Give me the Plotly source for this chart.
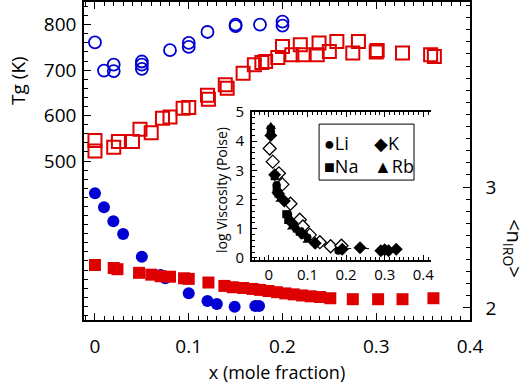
import plotly.graph_objects as go

FONT = "Open Sans"

# ---------------- main panel data ----------------
# Tg (K), left axis
tg_li_x = [0, 0.0096, 0.02, 0.02, 0.05, 0.05, 0.05, 0.08, 0.1, 0.1, 0.12, 0.15, 0.15, 0.176, 0.2, 0.2]
tg_li_y = [761, 699, 712, 698, 719, 712, 703, 744, 760, 751, 784, 797, 800, 800, 807, 798]

tg_na_x = [0, 0, 0.02, 0.025, 0.04, 0.048, 0.06, 0.072, 0.08, 0.094, 0.1, 0.12, 0.121, 0.139,
           0.141, 0.158, 0.17, 0.178, 0.182, 0.195, 0.2, 0.21, 0.219, 0.222, 0.237, 0.239,
           0.25, 0.258, 0.275, 0.281, 0.30, 0.301, 0.328, 0.358, 0.362]
tg_na_y = [522, 545, 530, 543, 543, 570, 562, 594, 597, 616, 618, 645, 636, 668,
           660, 693, 712, 717, 719, 728, 752, 734, 756, 734, 734, 760,
           741, 763, 738, 763, 740, 743, 738, 734, 730]

# <n_IRO>, right axis
n_li_x = [0, 0.0096, 0.0196, 0.03, 0.05, 0.07, 0.075, 0.1, 0.12, 0.13, 0.149, 0.171, 0.175]
n_li_y = [2.948, 2.832, 2.717, 2.611, 2.424, 2.273, 2.245, 2.121, 2.058, 2.033, 2.01, 2.016, 2.016]

n_na_x = [0, 0.02, 0.024, 0.047, 0.06, 0.07, 0.08, 0.095, 0.1, 0.121, 0.138, 0.147, 0.158,
          0.168, 0.176, 0.185, 0.194, 0.203, 0.212, 0.221, 0.23, 0.24, 0.251, 0.275, 0.302,
          0.328, 0.361]
n_na_y = [2.355, 2.33, 2.32, 2.29, 2.275, 2.262, 2.258, 2.245, 2.24, 2.21, 2.182, 2.171, 2.165,
          2.157, 2.149, 2.14, 2.13, 2.12, 2.112, 2.103, 2.096, 2.09, 2.08, 2.072, 2.072,
          2.072, 2.08]

# ---------------- inset data: log viscosity (Poise) ----------------
visc_li_x = [0.005, 0.02, 0.03, 0.05, 0.07, 0.1, 0.18]
visc_li_y = [4.3, 2.5, 2.1, 1.5, 1.0, 0.7, 0.25]
visc_na_x = [0.005, 0.015, 0.02, 0.025, 0.045, 0.05, 0.08, 0.09]
visc_na_y = [4.4, 2.8, 2.4, 2.2, 1.5, 1.3, 0.9, 0.8]
visc_k_x = [0.005, 0.015, 0.025, 0.04, 0.06, 0.085, 0.12, 0.19, 0.236, 0.29, 0.3, 0.31, 0.33]
visc_k_y = [4.2, 2.85, 2.2, 1.95, 1.2, 0.85, 0.5, 0.3, 0.35, 0.25, 0.28, 0.25, 0.3]
visc_rb_x = [0.005, 0.02, 0.03, 0.06, 0.075, 0.1, 0.3]
visc_rb_y = [4.5, 2.3, 2.0, 1.05, 0.95, 0.6, 0.22]
visc_open_x = [0.002, 0.01, 0.026, 0.035, 0.056, 0.08, 0.088, 0.106, 0.132, 0.16, 0.188]
visc_open_y = [3.75, 3.3, 2.9, 2.52, 1.86, 1.31, 1.08, 0.79, 0.54, 0.4, 0.42]
visc_fit_x = [0.19, 0.236, 0.29, 0.33]
visc_fit_y = [0.3, 0.35, 0.27, 0.3]

legend_labels = ["\u25CFLi", "\u25C6K", "\u25A0Na", "\u25B2Rb"]

BLUE = "rgb(0,0,210)"
RED = "rgb(222,0,0)"

fig = go.Figure()

fig.add_trace(go.Scatter(x=tg_li_x, y=tg_li_y, mode="markers", xaxis="x", yaxis="y",
                         marker=dict(symbol="circle-open", size=12, color=BLUE, line=dict(width=1.8))))
fig.add_trace(go.Scatter(x=tg_na_x, y=tg_na_y, mode="markers", xaxis="x", yaxis="y",
                         marker=dict(symbol="square-open", size=13, color=RED, line=dict(width=2))))
fig.add_trace(go.Scatter(x=n_li_x, y=n_li_y, mode="markers", xaxis="x", yaxis="y2",
                         marker=dict(symbol="circle", size=12, color=BLUE)))
fig.add_trace(go.Scatter(x=n_na_x, y=n_na_y, mode="markers", xaxis="x", yaxis="y2",
                         marker=dict(symbol="square", size=12, color=RED)))

# inset traces
fig.add_trace(go.Scatter(x=visc_fit_x, y=visc_fit_y, mode="lines", xaxis="x2", yaxis="y3",
                         line=dict(color="black", width=1, dash="dash")))
fig.add_trace(go.Scatter(x=visc_open_x, y=visc_open_y, mode="markers", xaxis="x2", yaxis="y3",
                         marker=dict(symbol="diamond", size=10, color="white",
                                     line=dict(color="black", width=1.3))))
fig.add_trace(go.Scatter(x=visc_li_x, y=visc_li_y, mode="markers", xaxis="x2", yaxis="y3",
                         marker=dict(symbol="circle", size=8, color="black")))
fig.add_trace(go.Scatter(x=visc_na_x, y=visc_na_y, mode="markers", xaxis="x2", yaxis="y3",
                         marker=dict(symbol="square", size=8, color="black")))
fig.add_trace(go.Scatter(x=visc_k_x, y=visc_k_y, mode="markers", xaxis="x2", yaxis="y3",
                         marker=dict(symbol="diamond", size=10, color="black")))
fig.add_trace(go.Scatter(x=visc_rb_x, y=visc_rb_y, mode="markers", xaxis="x2", yaxis="y3",
                         marker=dict(symbol="triangle-up", size=9, color="black")))

tickfont = dict(family=FONT, size=19, color="black")
itickfont = dict(family=FONT, size=15, color="black")

axcommon = dict(showline=True, linecolor="black", linewidth=1.5, ticks="inside",
                tickcolor="black", tickwidth=1.3, showgrid=False, zeroline=False,
                automargin=False)

fig.update_layout(
    width=529, height=384,
    margin=dict(l=84, r=59, t=2, b=64, autoexpand=False),
    paper_bgcolor="white", plot_bgcolor="white",
    showlegend=False,
    font=dict(family=FONT, color="black"),
    xaxis=dict(domain=[0, 1], range=[-0.0117, 0.4], tickvals=[0, 0.1, 0.2, 0.3, 0.4],
               ticktext=["0", "0.1", "0.2", "0.3", "0.4"], ticklen=7, mirror="ticks",
               minor=dict(dtick=0.01, tick0=0, ticklen=4, ticks="inside", tickcolor="black"),
               tickfont=tickfont, ticklabelstandoff=8, anchor="y",
               title=dict(text="x (mole fraction)", font=dict(family=FONT, size=18), standoff=10),
               **axcommon),
    yaxis=dict(domain=[0, 1], range=[150, 850], tickvals=[500, 600, 700, 800], ticklen=7,
               minor=dict(dtick=20, tick0=0, ticklen=4, ticks="inside", tickcolor="black"),
               tickfont=tickfont, ticklabelstandoff=2, anchor="x", **axcommon),
    yaxis2=dict(range=[1.9, 4.53], overlaying="y", side="right", anchor="x",
                tickvals=[2, 3], ticklen=7,
                minor=dict(dtick=0.1, tick0=0, ticklen=4, ticks="inside", tickcolor="black"),
                tickfont=tickfont, ticklabelstandoff=10, **axcommon),
    xaxis2=dict(domain=[0.435, 0.899], anchor="y3", range=[-0.044, 0.42],
                tickvals=[0, 0.1, 0.2, 0.3, 0.4], ticktext=["0", "0.1", "0.2", "0.3", "0.4"],
                ticklen=5, mirror="ticks",
                minor=dict(dtick=0.0125, tick0=0, ticklen=3, ticks="inside", tickcolor="black"),
                tickfont=itickfont, ticklabelstandoff=0, **axcommon),
    yaxis3=dict(domain=[0.1887, 0.654], anchor="x2", range=[-0.07, 5.0],
                tickvals=[0, 1, 2, 3, 4, 5], ticklen=5,
                minor=dict(dtick=0.2, tick0=0, ticklen=3, ticks="inside", tickcolor="black"),
                tickfont=itickfont, ticklabelstandoff=3, **axcommon),
    yaxis4=dict(range=[1.875, 3.30], overlaying="y3", side="right", anchor="x2",
                tickvals=[2.0, 2.5, 3.0], ticktext=["2.0", "2.5", "3.0"], ticklen=5,
                minor=dict(dtick=0.1, tick0=0, ticklen=3, ticks="inside", tickcolor="black"),
                tickfont=itickfont, ticklabelstandoff=3, **axcommon),
)

fig.add_annotation(text="Tg (K)", xref="paper", yref="paper", x=-0.171, y=0.755,
                   xanchor="center", yanchor="middle",
                   textangle=-90, showarrow=False, font=dict(family=FONT, size=19))
fig.add_annotation(text="&lt;n<sub>IRO</sub>&gt;", xref="paper", yref="paper", x=1.114, y=0.226,
                   xanchor="center", yanchor="middle",
                   textangle=90, showarrow=False, font=dict(family=FONT, size=20))
fig.add_annotation(text="log Viscosity (Poise)", xref="paper", yref="paper", x=0.3575, y=0.409,
                   xanchor="center", yanchor="middle",
                   textangle=-90, showarrow=False, font=dict(family=FONT, size=14))

# inset legend box and entries
fig.add_shape(type="rect", xref="paper", yref="paper", x0=0.609, x1=0.855, y0=0.440, y1=0.616,
              line=dict(color="black", width=1), fillcolor="white", layer="above")
leg_pos = [(322, 143), (372, 143), (322, 166), (372, 166)]
for lab, (px, py) in zip(legend_labels, leg_pos):
    fig.add_annotation(text=lab, xref="paper", yref="paper",
                       x=(px - 84) / 386, y=(320 - py) / 318, xanchor="left", yanchor="middle",
                       showarrow=False, font=dict(family=FONT, size=18, color="black"))

fig.write_html("out.html", config={"displayModeBar": False},
               post_script="document.body.style.margin='0';")
